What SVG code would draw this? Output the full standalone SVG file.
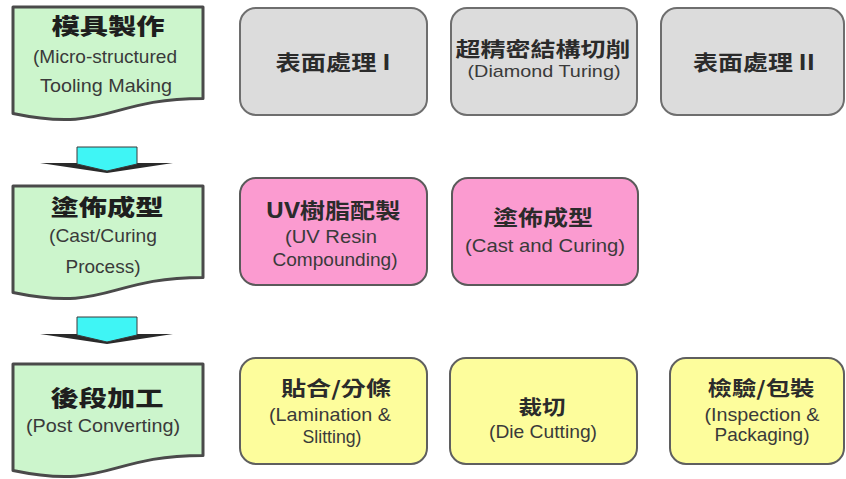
<svg xmlns="http://www.w3.org/2000/svg" width="846" height="479" viewBox="0 0 846 479">
<style>
.doc{fill:#ccf5cc;stroke:#4a4a4a;stroke-width:3;stroke-linejoin:round}
.gray{fill:#dcdcdc;stroke:#6e6e6e;stroke-width:2}
.pink{fill:#fb9bd0;stroke:#5a5a5a;stroke-width:2}
.yel{fill:#fdfd9c;stroke:#5f5f5f;stroke-width:2}
.cj{font-family:"Noto Sans CJK TC","Noto Sans CJK SC",sans-serif;font-weight:700;fill:#2b2b2b;text-anchor:middle}
.cjb{font-family:"Noto Sans CJK TC","Noto Sans CJK SC",sans-serif;font-weight:900;fill:#1e1e1e;text-anchor:middle}
.en{font-family:"Liberation Sans",Arial,sans-serif;fill:#3a3a3a;text-anchor:middle}
.wing{fill:#2a2a2a}
.arr{fill:#3ff5f5;stroke:#3a3a3a;stroke-width:1;stroke-linejoin:round}
</style>
<rect width="846" height="479" fill="#ffffff"/>
<g id="connectors">
<path class="wing" d="M40,163 H173 L107,173 Z"/>
<path class="arr" d="M77,147 H137 V164 L107,171 L77,164 Z"/>
<path class="wing" d="M40,334 H173 L107,344 Z"/>
<path class="arr" d="M77,317 H137 V335 L107,342 L77,335 Z"/>
</g>
<g id="stage1">
<path class="doc" d="M13,7 H203 V98.4 C108,98.4 108,133.3 13,113.5 Z"/>
<text class="cjb" x="108" y="34" font-size="22" textLength="113" lengthAdjust="spacingAndGlyphs">模具製作</text>
<text class="en" x="105" y="63" font-size="19" textLength="144" lengthAdjust="spacingAndGlyphs">(Micro-structured</text>
<text class="en" x="106" y="92" font-size="19" textLength="132" lengthAdjust="spacingAndGlyphs">Tooling Making</text>
</g>
<g id="stage2">
<path class="doc" d="M13,186 H203 V277.4 C108,277.4 108,312.3 13,292.5 Z"/>
<text class="cjb" x="107" y="215" font-size="22" textLength="113" lengthAdjust="spacingAndGlyphs">塗佈成型</text>
<text class="en" x="103" y="242" font-size="19" textLength="108" lengthAdjust="spacingAndGlyphs">(Cast/Curing</text>
<text class="en" x="103" y="273" font-size="19" textLength="75" lengthAdjust="spacingAndGlyphs">Process)</text>
</g>
<g id="stage3">
<path class="doc" d="M13,364 H203 V455.4 C108,455.4 108,490.3 13,470.5 Z"/>
<text class="cjb" x="107" y="406" font-size="22" textLength="113" lengthAdjust="spacingAndGlyphs">後段加工</text>
<text class="en" x="103" y="432" font-size="19" textLength="154" lengthAdjust="spacingAndGlyphs">(Post Converting)</text>
</g>
<g id="surface1">
<rect class="gray" x="240" y="8" width="187" height="107" rx="16"/>
<text class="cj" x="333" y="70" font-size="21" textLength="115" lengthAdjust="spacingAndGlyphs">表面處理 I</text>
</g>
<g id="diamond">
<rect class="gray" x="451" y="8" width="186" height="107" rx="16"/>
<text class="cj" x="543" y="57" font-size="20" textLength="175" lengthAdjust="spacingAndGlyphs">超精密結構切削</text>
<text class="en" x="544" y="77" font-size="17" textLength="153" lengthAdjust="spacingAndGlyphs">(Diamond Turing)</text>
</g>
<g id="surface2">
<rect class="gray" x="661" y="8" width="183" height="107" rx="16"/>
<text class="cj" x="754" y="70" font-size="21" textLength="122" lengthAdjust="spacingAndGlyphs">表面處理 II</text>
</g>
<g id="resin">
<rect class="pink" x="240" y="178" width="187" height="107" rx="16"/>
<text class="cj" x="333" y="218" font-size="21" textLength="135" lengthAdjust="spacingAndGlyphs">UV樹脂配製</text>
<text class="en" x="331" y="243" font-size="18.5" textLength="92" lengthAdjust="spacingAndGlyphs">(UV Resin</text>
<text class="en" x="335" y="266" font-size="18.5" textLength="125" lengthAdjust="spacingAndGlyphs">Compounding)</text>
</g>
<g id="casting">
<rect class="pink" x="452" y="178" width="186" height="107" rx="16"/>
<text class="cj" x="543" y="225" font-size="21" textLength="100" lengthAdjust="spacingAndGlyphs">塗佈成型</text>
<text class="en" x="545" y="252" font-size="18.5" textLength="160" lengthAdjust="spacingAndGlyphs">(Cast and Curing)</text>
</g>
<g id="lamination">
<rect class="yel" x="240" y="358" width="187" height="106" rx="16"/>
<text class="cj" x="336" y="396" font-size="20" textLength="110" lengthAdjust="spacingAndGlyphs">貼合/分條</text>
<text class="en" x="330" y="421" font-size="18.5" textLength="122" lengthAdjust="spacingAndGlyphs">(Lamination &amp;</text>
<text class="en" x="332" y="443" font-size="18.5" textLength="59" lengthAdjust="spacingAndGlyphs">Slitting)</text>
</g>
<g id="diecut">
<rect class="yel" x="450" y="358" width="187" height="106" rx="16"/>
<text class="cj" x="542" y="415" font-size="20" textLength="47" lengthAdjust="spacingAndGlyphs">裁切</text>
<text class="en" x="543" y="438" font-size="18.5" textLength="108" lengthAdjust="spacingAndGlyphs">(Die Cutting)</text>
</g>
<g id="inspection">
<rect class="yel" x="670" y="358" width="174" height="106" rx="16"/>
<text class="cj" x="761" y="396" font-size="20" textLength="107" lengthAdjust="spacingAndGlyphs">檢驗/包裝</text>
<text class="en" x="762" y="421" font-size="18.5" textLength="115" lengthAdjust="spacingAndGlyphs">(Inspection &amp;</text>
<text class="en" x="762" y="441" font-size="18.5" textLength="95" lengthAdjust="spacingAndGlyphs">Packaging)</text>
</g>
</svg>
